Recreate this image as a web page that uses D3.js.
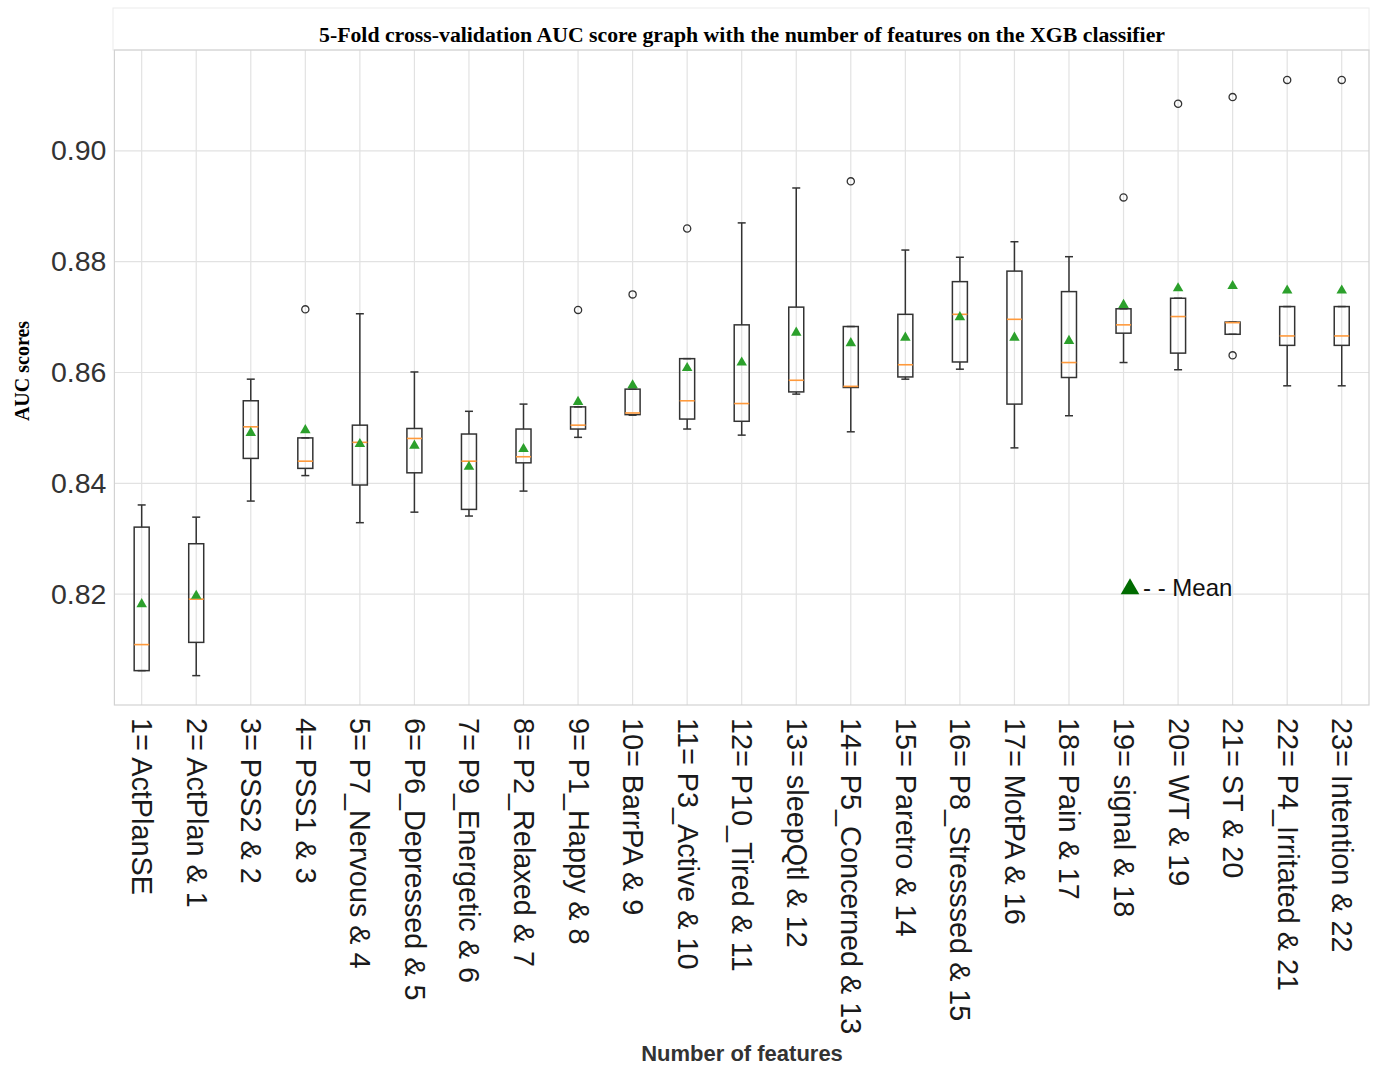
<!DOCTYPE html>
<html>
<head>
<meta charset="utf-8">
<script src="https://cdn.jsdelivr.net/npm/d3@7"></script>
<style>
  html, body { margin: 0; padding: 0; background: #fff; }
  svg { display: block; }
</style>
</head>
<body>
<svg id="chart" width="1376" height="1068"></svg>
<script>
// Feature sets (x categories)
const featureLabels = [
  "1= ActPlanSE", "2= ActPlan & 1", "3= PSS2 & 2", "4= PSS1 & 3", "5= P7_Nervous & 4",
  "6= P6_Depressed & 5", "7= P9_Energetic & 6", "8= P2_Relaxed & 7", "9= P1_Happy & 8",
  "10= BarrPA & 9", "11= P3_Active & 10", "12= P10_Tired & 11", "13= sleepQtl & 12",
  "14= P5_Concerned & 13", "15= Paretro & 14", "16= P8_Stresssed & 15", "17= MotPA & 16",
  "18= Pain & 17", "19= signal & 18", "20= WT & 19", "21= ST & 20",
  "22= P4_Irritated & 21", "23= Intention & 22"
];

// Box-plot statistics of the 5-fold AUC scores
const whiskerLow  = [0.8062, 0.8053, 0.8368, 0.8414, 0.8329, 0.8348, 0.8341, 0.8386, 0.8483, 0.8523, 0.8498, 0.8487, 0.8561, 0.8493, 0.8588, 0.8606, 0.8464, 0.8522, 0.8618, 0.8605, 0.8669, 0.8576, 0.8576];
const q1          = [0.8062, 0.8113, 0.8445, 0.8427, 0.8397, 0.8419, 0.8353, 0.8437, 0.8498, 0.8524, 0.8516, 0.8512, 0.8565, 0.8573, 0.8592, 0.8619, 0.8543, 0.8591, 0.8671, 0.8635, 0.8669, 0.8649, 0.8649];
const medians     = [0.8109, 0.8191, 0.8502, 0.8440, 0.8474, 0.8481, 0.8440, 0.8448, 0.8505, 0.8527, 0.8549, 0.8544, 0.8586, 0.8575, 0.8614, 0.8705, 0.8696, 0.8618, 0.8686, 0.8701, 0.8690, 0.8666, 0.8666];
const q3          = [0.8321, 0.8291, 0.8549, 0.8482, 0.8505, 0.8499, 0.8489, 0.8498, 0.8538, 0.8570, 0.8625, 0.8686, 0.8718, 0.8683, 0.8705, 0.8764, 0.8783, 0.8746, 0.8715, 0.8734, 0.8691, 0.8719, 0.8719];
const whiskerHigh = [0.8361, 0.8339, 0.8588, 0.8482, 0.8706, 0.8601, 0.8530, 0.8543, 0.8538, 0.8570, 0.8625, 0.8870, 0.8933, 0.8683, 0.8821, 0.8808, 0.8836, 0.8809, 0.8715, 0.8734, 0.8691, 0.8719, 0.8719];
const means       = [0.8182, 0.8197, 0.8491, 0.8496, 0.8471, 0.8468, 0.8430, 0.8462, 0.8547, 0.8577, 0.8608, 0.8618, 0.8672, 0.8653, 0.8663, 0.8700, 0.8663, 0.8657, 0.8722, 0.8752, 0.8756, 0.8748, 0.8748];
const outliers    = [[], [], [], [0.8714], [], [], [], [], [0.8713], [0.8741], [0.8860], [], [], [0.8945], [], [], [], [], [0.8916], [0.9085], [0.9097, 0.8631], [0.9128], [0.9128]];

// Axis ticks
const yTicks = [0.82, 0.84, 0.86, 0.88, 0.90];

const svg = d3.select("#chart");
const plot = { left: 114.4, right: 1369, top: 50, bottom: 705 };

const x = d3.scalePoint()
  .domain(featureLabels)
  .range([plot.left, plot.right])
  .padding(0.5);

const y = d3.scaleLinear()
  .domain([0.80, 0.9182])
  .range([plot.bottom, plot.top]);

// Title panel
svg.append("rect")
  .attr("x", 113).attr("y", 8)
  .attr("width", plot.right - 113).attr("height", plot.top - 8)
  .attr("fill", "#fff").attr("stroke", "#ececec").attr("stroke-width", 1);

svg.append("text")
  .attr("x", 742).attr("y", 42)
  .attr("text-anchor", "middle")
  .attr("font-family", "'Liberation Serif', 'DejaVu Serif', serif")
  .attr("font-weight", "bold")
  .attr("font-size", 20)
  .attr("textLength", 846)
  .attr("lengthAdjust", "spacingAndGlyphs")
  .attr("fill", "#000")
  .text("5-Fold cross-validation AUC score graph with the number of features on the XGB classifier");

// Grid
const grid = svg.append("g").attr("stroke", "#e2e2e2").attr("stroke-width", 1.2);
grid.selectAll("line.h").data(yTicks).join("line")
  .attr("class", "h")
  .attr("x1", plot.left).attr("x2", plot.right)
  .attr("y1", d => y(d)).attr("y2", d => y(d));
grid.selectAll("line.v").data(featureLabels).join("line")
  .attr("class", "v")
  .attr("x1", d => x(d)).attr("x2", d => x(d))
  .attr("y1", plot.top).attr("y2", plot.bottom);

// Plot frame
svg.append("rect")
  .attr("x", plot.left).attr("y", plot.top)
  .attr("width", plot.right - plot.left).attr("height", plot.bottom - plot.top)
  .attr("fill", "none").attr("stroke", "#d2d2d2").attr("stroke-width", 1.2);

// Y axis
const yAxis = d3.axisLeft(y).tickValues(yTicks).tickFormat(d3.format(".2f")).tickSize(0).tickPadding(8);
const yG = svg.append("g").attr("transform", `translate(${plot.left},0)`).call(yAxis);
yG.select(".domain").remove();
yG.selectAll("text")
  .attr("font-family", "'Liberation Sans', Arial, sans-serif")
  .attr("font-size", 28.5)
  .attr("fill", "#333");

// X axis
const xAxis = d3.axisBottom(x).tickSize(0).tickPadding(0);
const xG = svg.append("g").attr("transform", `translate(0,${plot.bottom})`).call(xAxis);
xG.select(".domain").remove();
xG.selectAll("text")
  .attr("font-family", "'Liberation Sans', Arial, sans-serif")
  .attr("font-size", 28.8)
  .attr("fill", "#1a1a1a")
  .attr("text-anchor", "start")
  .attr("dy", null)
  .attr("y", 0)
  .attr("dominant-baseline", "central")
  .attr("transform", "translate(0,13) rotate(90)");
xG.selectAll(".tick text").attr("x", 0);

// Axis titles
svg.append("text")
  .attr("transform", "translate(29,371) rotate(-90)")
  .attr("text-anchor", "middle")
  .attr("font-family", "'Liberation Serif', 'DejaVu Serif', serif")
  .attr("font-weight", "bold")
  .attr("font-size", 20)
  .attr("fill", "#000")
  .text("AUC scores");

svg.append("text")
  .attr("x", 742).attr("y", 1061)
  .attr("text-anchor", "middle")
  .attr("font-family", "'Liberation Sans', Arial, sans-serif")
  .attr("font-weight", "bold")
  .attr("font-size", 22)
  .attr("fill", "#333")
  .text("Number of features");

// Box plots
const boxW = 15, capW = 8;
const rows = featureLabels.map((label, i) => ({
  label,
  lo: whiskerLow[i], q1: q1[i], med: medians[i], q3: q3[i], hi: whiskerHigh[i],
  mean: means[i], out: outliers[i]
}));

const boxes = svg.append("g").selectAll("g.box").data(rows).join("g")
  .attr("class", "box")
  .attr("transform", d => `translate(${x(d.label)},0)`);

const ink = "#333";
// whiskers
boxes.append("line")
  .attr("x1", 0).attr("x2", 0)
  .attr("y1", d => y(d.hi)).attr("y2", d => y(d.q3))
  .attr("stroke", ink).attr("stroke-width", 1.5);
boxes.append("line")
  .attr("x1", 0).attr("x2", 0)
  .attr("y1", d => y(d.q1)).attr("y2", d => y(d.lo))
  .attr("stroke", ink).attr("stroke-width", 1.5);
// caps
boxes.append("line")
  .attr("x1", -capW / 2).attr("x2", capW / 2)
  .attr("y1", d => y(d.hi)).attr("y2", d => y(d.hi))
  .attr("stroke", ink).attr("stroke-width", 1.5);
boxes.append("line")
  .attr("x1", -capW / 2).attr("x2", capW / 2)
  .attr("y1", d => y(d.lo)).attr("y2", d => y(d.lo))
  .attr("stroke", ink).attr("stroke-width", 1.5);
// box body
boxes.append("rect")
  .attr("x", -boxW / 2).attr("width", boxW)
  .attr("y", d => y(d.q3))
  .attr("height", d => Math.max(0.5, y(d.q1) - y(d.q3)))
  .attr("fill", "none").attr("stroke", ink).attr("stroke-width", 1.5);
// median
boxes.append("line")
  .attr("x1", -boxW / 2).attr("x2", boxW / 2)
  .attr("y1", d => y(d.med)).attr("y2", d => y(d.med))
  .attr("stroke", "#ff9a3c").attr("stroke-width", 1.6);
// outliers
boxes.selectAll("circle").data(d => d.out).join("circle")
  .attr("cx", 0).attr("cy", v => y(v)).attr("r", 3.6)
  .attr("fill", "none").attr("stroke", "#333").attr("stroke-width", 1.3);
// means
const tri = d3.symbol().type(d3.symbolTriangle).size(48);
boxes.append("path")
  .attr("d", tri)
  .attr("transform", d => `translate(0,${y(d.mean)})`)
  .attr("fill", "#2ca02c");

// Legend
const legend = svg.append("g").attr("transform", "translate(1130,588)");
legend.append("path")
  .attr("d", d3.symbol().type(d3.symbolTriangle).size(150))
  .attr("transform", "translate(0,1)")
  .attr("fill", "#006b00");
legend.append("text")
  .attr("x", 13).attr("y", 8)
  .attr("font-family", "'Liberation Sans', Arial, sans-serif")
  .attr("font-size", 24)
  .attr("fill", "#111")
  .text("- - Mean");
</script>
</body>
</html>
